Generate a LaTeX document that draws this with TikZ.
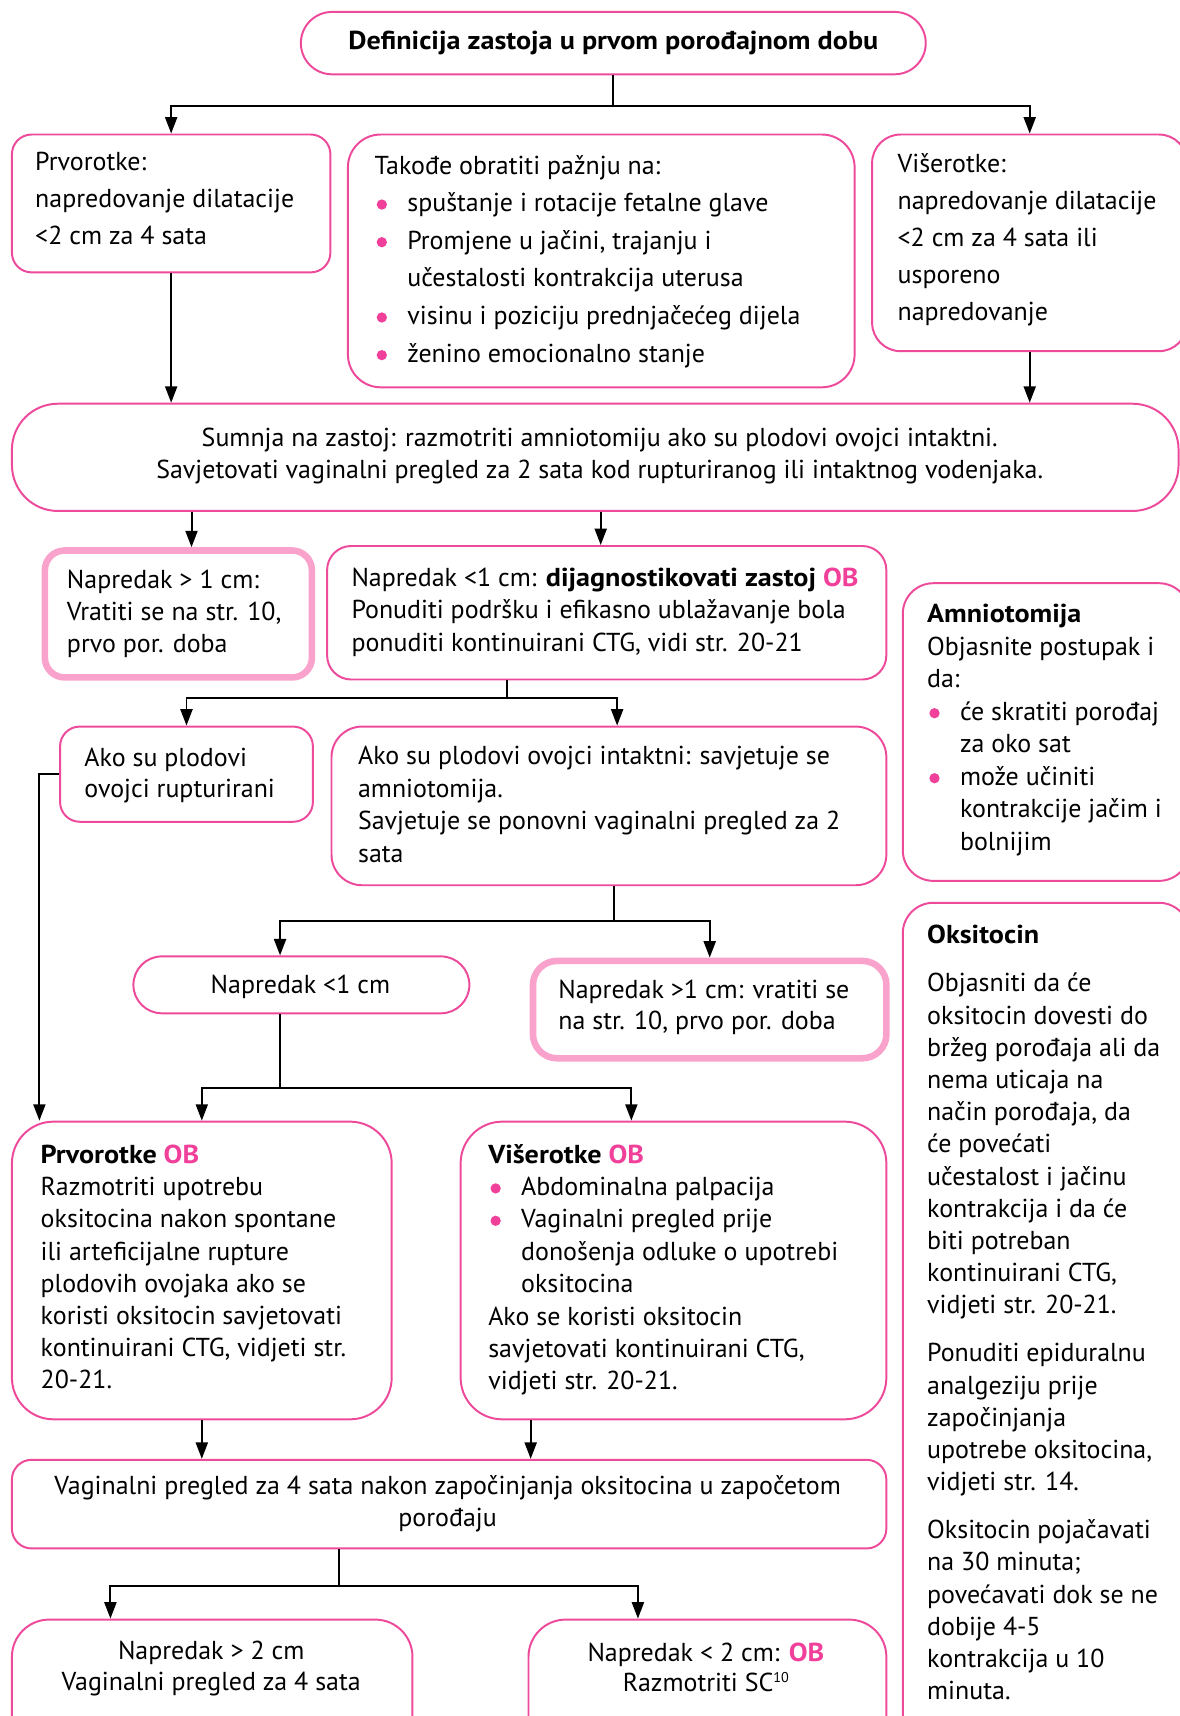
\documentclass[tikz,border=0pt]{standalone}
\usepackage{fontspec}
\setmainfont{PT Sans}[BoldFeatures={FakeStretch=1.085}]
\usetikzlibrary{arrows.meta,calc}

\definecolor{pinkline}{HTML}{EE4A9B}
\definecolor{pinklight}{HTML}{F9A3CC}
\definecolor{obpink}{HTML}{F0409A}

% pink round bullet and the "OB" mark
\newcommand\pdot{\tikz[baseline=0pt,x=1pt,y=1pt]\fill[obpink](4.7,6.5) circle[radius=4.7];}
\newcommand\bitem{\makebox[30pt][l]{\hspace{2pt}\pdot}}
\newcommand\bcont{\hspace*{30pt}}
\newcommand\OB{\textcolor{obpink}{\bfseries OB}}
\newcommand\refmark[1]{\raisebox{9pt}{\fontsize{13pt}{13pt}\selectfont #1}}
% text size with a given line spacing
\newcommand\fs[1]{\fontsize{23.7pt}{#1pt}\selectfont}

\tikzset{
  box/.style={draw=pinkline, line width=1.8pt, fill=white, inner sep=0pt,
              anchor=north west, rounded corners=#1},
  hibox/.style={draw=pinklight, line width=6pt, fill=white, inner sep=0pt,
              anchor=north west, rounded corners=#1},
  con/.style={line width=1.8pt, black},
  arr/.style={con, -{Triangle[width=11pt,length=15pt]}},
  % texts are placed by the baseline of their last line
  txt/.style={inner sep=0pt, anchor=base west, align=left, font=\fs{29.5}},
  ctxt/.style={txt, anchor=base, align=center},
}

\begin{document}
\begin{tikzpicture}[x=1pt,y=-1pt]
\useasboundingbox (0,0) rectangle (1078,1568);
\clip (0,0) rectangle (1078,1568);

% ---------- boxes ----------
\node[box=28.5pt, minimum width=571pt, minimum height=57pt,
      font=\fs{28}\bfseries] (title) at (274,10)
      {Definicija zastoja u prvom porođajnom dobu};
\node[box=18pt, minimum width=291pt, minimum height=126pt] (prv) at (10,122) {};
\node[box=30pt, minimum width=463pt, minimum height=231pt] (tak) at (317,122) {};
\node[box=26pt, minimum width=288pt, minimum height=198pt] (vis) at (796,122) {};
\node[box=42pt, minimum width=1066pt, minimum height=98pt] (sum) at (10,368) {};
\node[hibox=18pt, minimum width=244pt, minimum height=116pt] (n1) at (38,500) {};
\node[box=22pt, minimum width=511pt, minimum height=122pt] (n2) at (298,498) {};
\node[box=18pt, minimum width=231pt, minimum height=87pt] (rup) at (54,663) {};
\node[box=28pt, minimum width=507pt, minimum height=145pt] (int) at (302,663) {};
\node[box=26pt, minimum width=307pt, minimum height=52pt] (nlt) at (121,873) {};
\node[hibox=22pt, minimum width=323pt, minimum height=89pt] (ngt) at (484,875) {};
\node[box=38pt, minimum width=347pt, minimum height=272pt] (pOB) at (10,1024) {};
\node[box=38pt, minimum width=389pt, minimum height=272pt] (vOB) at (420,1024) {};
\node[box=18pt, minimum width=799pt, minimum height=81pt] (vag) at (10,1333) {};
\node[box=34pt, minimum width=366pt, minimum height=130pt] (b1) at (10,1479) {};
\node[box=34pt, minimum width=327pt, minimum height=130pt] (b2) at (482,1479) {};
\node[box=28pt, minimum width=262pt, minimum height=272pt] (amn) at (824,532) {};
\node[box=28pt, minimum width=262pt, minimum height=800pt] (oks) at (824,824) {};

% ---------- texts ----------
\node[txt, font=\fs{33.5}] (t-prv) at (32,223)
  {Prvorotke:\\napredovanje dilatacije\\<2 cm za 4 sata};
\node[txt, font=\fs{34.4}] (t-tak) at (342,331)
  {Takođe obratiti pažnju na:\\
   \bitem spuštanje i rotacije fetalne glave\\
   \bitem Promjene u jačini, trajanju i\\
   \bcont učestalosti kontrakcija uterusa\\
   \bitem visinu i poziciju prednjačećeg dijela\\
   \bitem ženino emocionalno stanje};
\node[txt, font=\fs{33.75}] (t-vis) at (820,293)
  {Višerotke:\\napredovanje dilatacije\\<2 cm za 4 sata ili\\usporeno\\napredovanje};
\node[ctxt, font=\fs{29}] (t-sum) at (548,437)
  {Sumnja na zastoj: razmotriti amniotomiju ako su plodovi ovojci intaktni.\\
   Savjetovati vaginalni pregled za 2 sata kod rupturiranog ili intaktnog vodenjaka.};
\node[txt, font=\fs{29}] (t-n1) at (61,596)
  {Napredak > 1 cm:\\Vratiti se na str. 10,\\prvo por. doba};
\node[txt] (t-n2) at (321,595)
  {Napredak <1 cm: \textbf{dijagnostikovati zastoj} \OB\\
   Ponuditi podršku i efikasno ublažavanje bola\\
   ponuditi kontinuirani CTG, vidi str. 20-21};
\node[txt, font=\fs{29}] (t-rup) at (77,729)
  {Ako su plodovi\\ovojci rupturirani};
\node[txt, font=\fs{29.7}] (t-int) at (327,788)
  {Ako su plodovi ovojci intaktni: savjetuje se\\amniotomija.\\
   Savjetuje se ponovni vaginalni pregled za 2\\sata};
\node[ctxt] (t-nlt) at (274.5,908) {Napredak <1 cm};
\node[txt, font=\fs{29}] (t-ngt) at (510,941)
  {Napredak >1 cm: vratiti se\\na str. 10, prvo por. doba};
\node[txt, font=\fs{29.4}] (t-pOB) at (37,1269)
  {\textbf{Prvorotke} \OB\\Razmotriti upotrebu\\oksitocina nakon spontane\\
   ili arteficijalne rupture\\plodovih ovojaka ako se\\koristi oksitocin savjetovati\\
   kontinuirani CTG, vidjeti str.\\20-21.};
\node[txt, font=\fs{29.6}] (t-vOB) at (446,1270)
  {\textbf{Višerotke} \OB\\
   \bitem Abdominalna palpacija\\
   \bitem Vaginalni pregled prije\\
   \bcont donošenja odluke o upotrebi\\
   \bcont oksitocina\\
   Ako se koristi oksitocin\\savjetovati kontinuirani CTG,\\vidjeti str. 20-21.};
\node[ctxt, font=\fs{29}] (t-vag) at (409,1395)
  {Vaginalni pregled za 4 sata nakon započinjanja oksitocina u započetom\\porođaju};
\node[ctxt, font=\fs{29}] (t-b1) at (193,1545)
  {Napredak > 2 cm\\Vaginalni pregled za 4 sata};
\node[ctxt, font=\fs{28}] (t-b2) at (645,1546)
  {Napredak < 2 cm: \OB\\Razmotriti SC\refmark{10}};
\node[txt, font=\fs{29.7}] (t-amn) at (847,777)
  {\textbf{Amniotomija}\\Objasnite postupak i\\da:\\
   \bitem će skratiti porođaj\\\bcont za oko sat\\
   \bitem može učiniti\\\bcont kontrakcije jačim i\\\bcont bolnijim};
\node[txt, font=\fs{29.4}] (t-oks) at (847,1553)
  {\textbf{Oksitocin}\\[14.6pt]
   Objasniti da će\\oksitocin dovesti do\\bržeg porođaja ali da\\nema uticaja na\\
   način porođaja, da\\će povećati\\učestalost i jačinu\\kontrakcija i da će\\
   biti potreban\\kontinuirani CTG,\\vidjeti str. 20-21.\\[14.6pt]
   Ponuditi epiduralnu\\analgeziju prije\\započinjanja\\upotrebe oksitocina,\\
   vidjeti str. 14.\\[14.6pt]
   Oksitocin pojačavati\\na 30 minuta;\\povećavati dok se ne\\dobije 4-5\\
   kontrakcija u 10\\minuta.};

% ---------- connectors ----------
\draw[con] (title.south) -- ++(0,28) coordinate (j1);
\draw[arr] (j1) -| (prv.north);
\draw[arr] (j1) -| (vis.north);

\draw[arr] (prv.south) -- (prv.south |- sum.north);
\draw[arr] (vis.south) -- (vis.south |- sum.north);

\coordinate (a1) at ([xshift=12pt]n1.north);
\coordinate (a2) at ([xshift=-5.5pt]n2.north);
\draw[arr] (sum.south -| a1) -- (a1);
\draw[arr] (sum.south -| a2) -- (a2);

\coordinate (s3) at ([xshift=-91.5pt]n2.south);
\coordinate (a3) at ([xshift=7.5pt]int.north);
\draw[con] (s3) -- ++(0,16) coordinate (j3);
\draw[arr] (j3) -| (rup.north);
\draw[arr] (j3) -| (a3);

\coordinate (a4) at ([xshift=26pt]pOB.north west);
\draw[arr] (rup.west) -| (a4);

\coordinate (s5) at ([xshift=4.5pt]int.south);
\coordinate (a5) at ([xshift=-19.5pt]nlt.north);
\draw[con] (s5) -- ++(0,32) coordinate (j5);
\draw[arr] (j5) -| (a5);
\draw[arr] (j5) -| (ngt.north);

\coordinate (s6) at (a5 |- nlt.south);
\coordinate (a6) at ([xshift=-38.5pt]vOB.north);
\draw[con] (s6) -- ++(0,67) coordinate (j6);
\draw[arr] (j6) -| (pOB.north);
\draw[arr] (j6) -| (a6);

\coordinate (s7) at ([xshift=-130.5pt]vOB.south);
\draw[arr] (pOB.south) -- (pOB.south |- vag.north);
\draw[arr] (s7) -- (s7 |- vag.north);

\coordinate (s8) at ([xshift=-100.5pt]vag.south);
\coordinate (a8) at ([xshift=-93pt]b1.north);
\coordinate (a9) at ([xshift=-63.5pt]b2.north);
\draw[con] (s8) -- ++(0,33) coordinate (j8);
\draw[arr] (j8) -| (a8);
\draw[arr] (j8) -| (a9);
\end{tikzpicture}
\end{document}
